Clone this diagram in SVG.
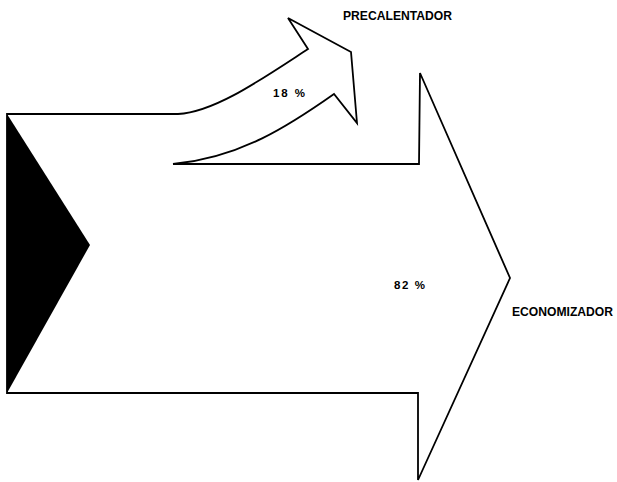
<svg xmlns="http://www.w3.org/2000/svg" width="617" height="482" viewBox="0 0 617 482">
<style>
.ol{fill:none;stroke:#000;stroke-width:1.8;stroke-linejoin:miter}
.lbl{font-family:"Liberation Sans",Arial,sans-serif;font-size:12.5px;font-weight:bold;fill:#000}
.pct{font-family:"Liberation Sans",Arial,sans-serif;font-size:11.5px;font-weight:bold;fill:#000}
</style>
<rect width="617" height="482" fill="#fff"/>
<g id="source">
<polygon points="7,114 90,245 7,393" fill="#000"/>
</g>
<g id="connectors">
<path class="ol" d="M7,114 L178,114 C215,112 262,79 308,49 L288,18 L351,52 L357,123 L334,94 C290,125 240,158 173,164 L419,164 L420,73 L510,278 L418,480 L418,393 L7,393 Z"/>
</g>
<g id="precalentador">
<text class="lbl" x="343" y="20" textLength="109" lengthAdjust="spacingAndGlyphs">PRECALENTADOR</text>
<text class="pct" x="273" y="97" textLength="32" lengthAdjust="spacing">18 %</text>
</g>
<g id="economizador">
<text class="lbl" x="512" y="316" textLength="101" lengthAdjust="spacingAndGlyphs">ECONOMIZADOR</text>
<text class="pct" x="394" y="289" textLength="31" lengthAdjust="spacing">82 %</text>
</g>
</svg>
